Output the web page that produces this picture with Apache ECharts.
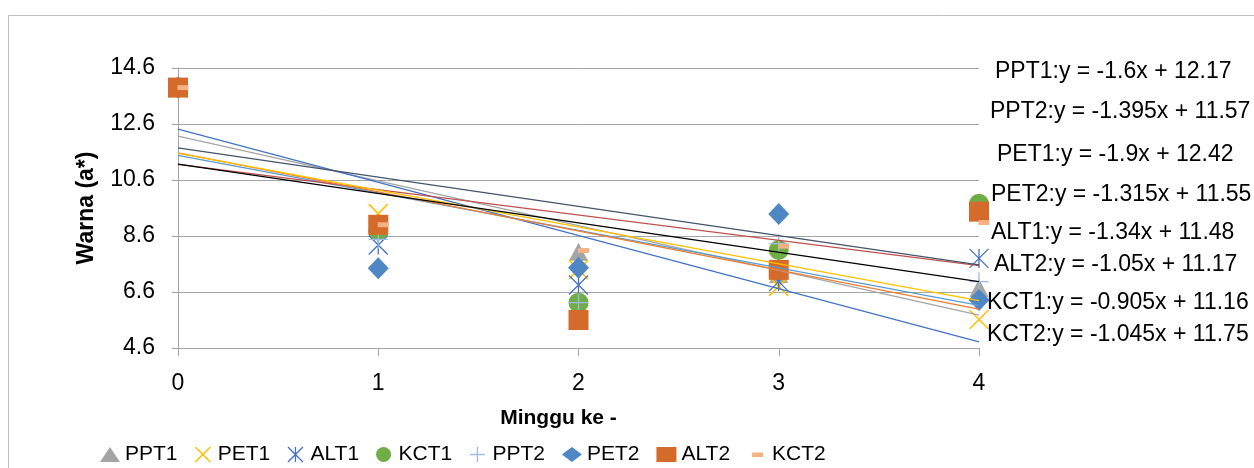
<!DOCTYPE html>
<html>
<head>
<meta charset="utf-8">
<script src="https://cdn.jsdelivr.net/npm/echarts@6/dist/echarts.min.js"></script>
<style>
  html, body { margin: 0; padding: 0; background: #ffffff; }
  #chart { width: 1254px; height: 468px; }
</style>
</head>
<body>
<div id="chart"></div>
<script>
// Week numbers on the x axis
const weeks = [0, 1, 2, 3, 4];

// Colour a* per treatment, one value per week
const PPT1 = [13.9, 8.92, 8.04, 7.24, 6.74];
const PET1 = [13.9, 9.4, 7.4, 6.8, 5.62];
const ALT1 = [13.9, 8.28, 6.85, 6.97, 7.8];
const KCT1 = [13.9, 8.8, 6.22, 8.1, 9.75];
const PPT2 = [13.9, 8.48, 6.22, 8.33, 6.97];
const PET2 = [13.9, 7.45, 7.47, 9.39, 6.31];
const ALT2 = [13.9, 9.0, 5.6, 7.39, 9.47];
const KCT2 = [13.9, 9.0, 8.08, 8.24, 9.08];

const seriesNames = ['PPT1', 'PET1', 'ALT1', 'KCT1', 'PPT2', 'PET2', 'ALT2', 'KCT2'];
const seriesValues = [PPT1, PET1, ALT1, KCT1, PPT2, PET2, ALT2, KCT2];

// Linear trend lines, y = slope * x + intercept (same order as seriesNames)
const trendSlopes = [-1.6, -1.9, -1.34, -0.905, -1.395, -1.315, -1.05, -1.045];
const trendIntercepts = [12.17, 12.42, 11.48, 11.16, 11.57, 11.55, 11.17, 11.75];

// Order of the equation labels down the right-hand side
const equationOrder = ['PPT1', 'PPT2', 'PET1', 'PET2', 'ALT1', 'ALT2', 'KCT1', 'KCT2'];

// Y tick labels run 4.6, 6.6 ... 14.6; the axis works in offsets from the first one
const yTickLabels = ['4.6', '6.6', '8.6', '10.6', '12.6', '14.6'];
const yBase = 4.6;
const yStep = 2;

// ---- styling ----
const FONT = '"Liberation Sans", Arial, sans-serif';
const GRID_GRAY = '#A6A6A6';

const X_PATH = 'path://M0,0L20,20M20,0L0,20';
const STAR_PATH = 'path://M0,0L20,20M20,0L0,20M10,0L10,20';
const PLUS_PATH = 'path://M10,0L10,20M0,10L20,10';
const DASH_PATH = 'path://M0,0L11,0L11,5L0,5Z';
// legend dash: the two bare move-to points widen the box so the bar stays small
const DASH_LEGEND_PATH = 'path://M0,0M20,15M5,5.5L16,5.5L16,10L5,10Z';

const markerStyles = {
  PPT1: { symbol: 'triangle', symbolSize: [19, 18], itemStyle: { color: '#A5A5A5', opacity: 1 } },
  PET1: { symbol: X_PATH, symbolSize: 19, itemStyle: { color: 'rgba(0,0,0,0)', borderColor: '#FFC000', borderWidth: 1.5, opacity: 1 } },
  ALT1: { symbol: STAR_PATH, symbolSize: 19, itemStyle: { color: 'rgba(0,0,0,0)', borderColor: '#4472C4', borderWidth: 1.3, opacity: 1 } },
  KCT1: { symbol: 'circle', symbolSize: 20, itemStyle: { color: '#70AD47', opacity: 1 } },
  PPT2: { symbol: PLUS_PATH, symbolSize: 19, itemStyle: { color: 'rgba(0,0,0,0)', borderColor: '#9DBBE6', borderWidth: 1.3, opacity: 1 } },
  PET2: { symbol: 'diamond', symbolSize: [21, 22], itemStyle: { color: '#4F87C5', opacity: 1 } },
  ALT2: { symbol: 'rect', symbolSize: 20, itemStyle: { color: '#D46B2A', opacity: 1 } },
  KCT2: { symbol: DASH_PATH, legendIcon: DASH_LEGEND_PATH, symbolSize: [11, 5], symbolOffset: [5, 0], itemStyle: { color: '#F4B183', opacity: 1 } }
};

const trendColors = {
  PPT1: '#A5A5A5', PET1: '#4472C4', ALT1: '#5B9BD5', KCT1: '#C0504D',
  PPT2: '#ED7D31', PET2: '#FFC000', ALT2: '#000000', KCT2: '#44546A'
};

// Equation label placement (left x, middle y) in order of equationOrder
const equationPos = [
  [995, 72], [990, 112], [997, 155], [991, 195],
  [991, 233], [994, 265], [987, 303], [987, 335]
];

const toAxis = v => v - yBase;

const scatterSeries = seriesNames.map((name, i) => {
  const st = markerStyles[name];
  return {
    name: name,
    type: 'scatter',
    symbol: st.symbol,
    symbolSize: st.symbolSize,
    symbolOffset: st.symbolOffset || [0, 0],
    symbolKeepAspect: false,
    itemStyle: st.itemStyle,
    emphasis: { disabled: true },
    z: 2 + i * 0.01,
    data: weeks.map((w, k) => [w, toAxis(seriesValues[i][k])])
  };
});

const trendSeries = seriesNames.map((name, i) => ({
  name: name + ' trend',
  type: 'line',
  symbol: 'none',
  silent: true,
  lineStyle: { color: trendColors[name], width: 1.3 },
  z: 5,
  data: [weeks[0], weeks[weeks.length - 1]].map(x => [x, toAxis(trendSlopes[i] * x + trendIntercepts[i])])
}));

const legendData = seriesNames.map(name => {
  const st = markerStyles[name];
  return { name: name, icon: st.legendIcon || st.symbol, itemStyle: st.itemStyle };
});

const equationTexts = equationOrder.map((name, k) => {
  const i = seriesNames.indexOf(name);
  return {
    type: 'text',
    x: equationPos[k][0],
    y: equationPos[k][1],
    z: 10,
    style: {
      text: name + ':y = ' + String(trendSlopes[i]) + 'x + ' + String(trendIntercepts[i]),
      fontSize: 23,
      fontFamily: FONT,
      fill: '#000000',
      verticalAlign: 'middle',
      align: 'left'
    }
  };
});

const chart = echarts.init(document.getElementById('chart'), null, { renderer: 'canvas' });

chart.setOption({
  animation: false,
  backgroundColor: '#ffffff',
  textStyle: { fontFamily: FONT },
  grid: { left: 178, top: 68, width: 801, height: 280 },
  xAxis: {
    type: 'value',
    min: weeks[0],
    max: weeks[weeks.length - 1],
    interval: 1,
    name: 'Minggu ke -',
    nameLocation: 'middle',
    nameGap: 60,
    nameTextStyle: { fontSize: 21, fontWeight: 'bold', color: '#000', fontFamily: FONT, padding: [0, 40, 0, 0] },
    axisLine: { show: true, lineStyle: { color: GRID_GRAY, width: 1 } },
    axisTick: { show: true, inside: false, length: 8, lineStyle: { color: GRID_GRAY } },
    axisLabel: { fontSize: 23, color: '#000', margin: 24, fontFamily: FONT },
    splitLine: { show: false }
  },
  yAxis: {
    type: 'value',
    min: 0,
    max: toAxis(Number(yTickLabels[yTickLabels.length - 1])),
    interval: yStep,
    name: 'Warna (a*)',
    nameLocation: 'middle',
    nameGap: 80,
    nameTextStyle: { fontSize: 23, fontWeight: 'bold', color: '#000', fontFamily: FONT },
    axisLine: { show: true, lineStyle: { color: GRID_GRAY, width: 1 } },
    axisTick: { show: true, inside: false, length: 6, lineStyle: { color: GRID_GRAY } },
    axisLabel: {
      fontSize: 23, color: '#000', margin: 23, fontFamily: FONT,
      formatter: v => yTickLabels[Math.round(v / yStep)]
    },
    splitLine: { show: true, lineStyle: { color: GRID_GRAY, width: 1 } }
  },
  legend: {
    data: legendData,
    left: 95,
    top: 439,
    orient: 'horizontal',
    itemWidth: 20,
    itemHeight: 15,
    itemGap: 17,
    textStyle: { fontSize: 21, color: '#000', fontFamily: FONT },
    selectedMode: false
  },
  graphic: [
    {
      type: 'rect',
      z: -10,
      silent: true,
      shape: { x: 8.5, y: 15.5, width: 1400, height: 600 },
      style: { fill: 'none', stroke: '#BFBFBF', lineWidth: 1 }
    }
  ].concat(equationTexts),
  series: scatterSeries.concat(trendSeries)
});
</script>
</body>
</html>
